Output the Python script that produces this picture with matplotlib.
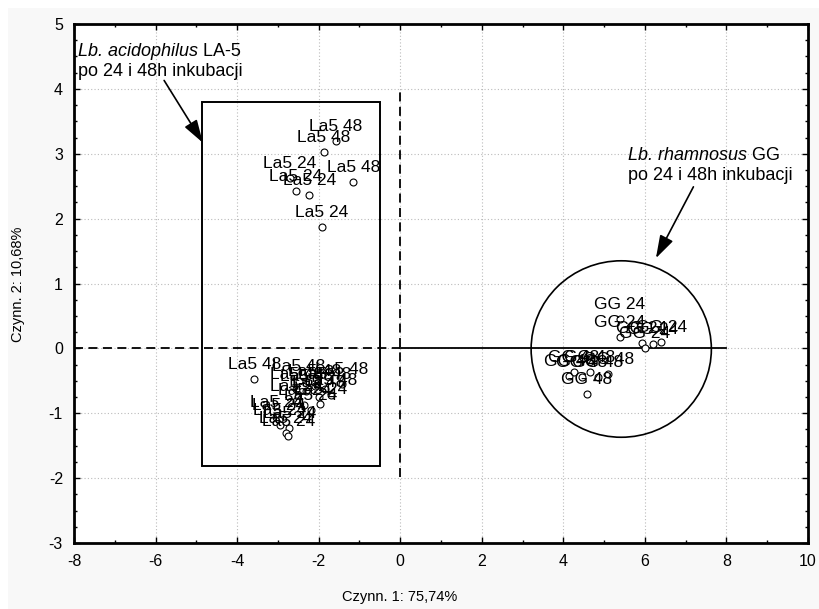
import matplotlib
matplotlib.use("Agg")
import matplotlib.pyplot as plt
from matplotlib.patches import Rectangle, Ellipse

plt.rcParams['font.family'] = ['Liberation Sans', 'DejaVu Sans']
plt.rcParams['axes.unicode_minus'] = False

# PCA scores, Lb. acidophilus LA-5
la5_x = [-1.58, -1.88, -1.15, -2.70, -2.56, -2.23, -1.92,
         -3.58, -2.48, -1.43, -2.10, -1.85, -2.30, -1.70, -2.00, -2.55,
         -2.55, -2.35, -1.96, -2.20, -3.04, -2.97, -2.95, -2.72, -2.80, -2.74]
la5_y = [3.19, 3.03, 2.56, 2.63, 2.43, 2.37, 1.87,
         -0.47, -0.50, -0.55, -0.58, -0.62, -0.65, -0.72, -0.75, -0.63,
         -0.81, -0.88, -0.85, -0.95, -1.06, -1.10, -1.18, -1.23, -1.30, -1.35]
la5_lab = ["La5 48", "La5 48", "La5 48", "La5 24", "La5 24", "La5 24", "La5 24",
           "La5 48", "La5 48", "La5 48", "La5 48", "La5 48", "La5 48", "La5 48", "La5 48", "La5 48",
           "La5 24", "La5 24", "La5 24", "La5 24", "La5 24", "La5 24", "La5 24", "La5 24", "La5 24", "La5 24"]

# PCA scores, Lb. rhamnosus GG
gg_x = [5.39, 5.39, 5.92, 6.19, 6.00, 6.40,
        4.15, 4.25, 4.45, 4.65, 4.85, 5.10, 4.58]
gg_y = [0.46, 0.18, 0.09, 0.07, 0.01, 0.10,
        -0.42, -0.36, -0.44, -0.36, -0.44, -0.40, -0.71]
gg_lab = ["GG 24", "GG 24", "GG 24", "GG 24", "GG 24", "GG 24",
          "GG 48", "GG 48", "GG 48", "GG 48", "GG 48", "GG 48", "GG 48"]

xs = la5_x + gg_x
ys = la5_y + gg_y
labels = la5_lab + gg_lab

W, H = 819, 609
fig = plt.figure(figsize=(W / 100, H / 100), dpi=100, facecolor='white')
fig.patches.append(Rectangle((8 / W, 0), 1 - 8 / W, 1 - 8 / H, transform=fig.transFigure,
                             facecolor='#f8f8f8', edgecolor='none', zorder=-10))

ax = fig.add_axes([74 / W, (H - 543) / H, 734 / W, 519 / H])
ax.set_facecolor('white')
ax.set_xlim(-8, 10)
ax.set_ylim(-3, 5)
ax.set_xticks(range(-8, 11, 2))
ax.set_yticks(range(-3, 6))
ax.set_xticks(range(-7, 10, 2), minor=True)
ax.set_yticks([v / 4 for v in range(-12, 21) if v % 4], minor=True)
ax.tick_params(which='both', direction='in', top=True, right=True, labelsize=11.5, pad=8)
ax.tick_params(which='major', length=4, width=1)
ax.tick_params(which='minor', length=2.5, width=1)
for s in ax.spines.values():
    s.set_linewidth(2)
ax.grid(True, which='major', ls=(0, (1, 2)), color='#bbbbbb', lw=0.8)
ax.set_axisbelow(True)

# points and labels
ax.plot(xs, ys, 'o', ms=5, mfc='white', mec='black', mew=0.8, zorder=3)
for x, y, t in zip(xs, ys, labels):
    ax.annotate(t, (x, y), xytext=(0, 10), textcoords='offset pixels',
                ha='center', va='baseline', fontsize=12.5, zorder=4)

# reference lines
ax.plot([-8, 0], [0, 0], color='black', lw=1.3, ls=(0, (5, 3)), zorder=2)
ax.plot([0, 8], [0, 0], color='black', lw=1.3, zorder=2)
ax.plot([0, 0], [-1.98, 3.97], color='black', lw=1.3, ls=(0, (5, 3)), zorder=2)

# group outlines
ax.add_patch(Rectangle((-4.86, -1.81), 4.36, 5.61, fill=False, lw=1.4, ec='black', zorder=2))
ax.add_patch(Ellipse((5.42, -0.01), 4.42, 2.72, fill=False, lw=1.2, ec='black', zorder=2))

# annotations
def two_style(x, y, ital, rest):
    t1 = ax.text(x, y, ital, style='italic', fontsize=13, va='center', ha='left')
    ax.annotate(rest, xy=(1, 0), xycoords=t1, va='bottom', ha='left', fontsize=13)

two_style(-7.90, 4.58, "Lb. acidophilus", " LA-5")
ax.text(-7.90, 4.27, "po 24 i 48h inkubacji", fontsize=13, va='center', ha='left')
two_style(5.59, 2.98, "Lb. rhamnosus", " GG")
ax.text(5.59, 2.66, "po 24 i 48h inkubacji", fontsize=13, va='center', ha='left')

arrow = dict(arrowstyle='-|>,head_length=0.7,head_width=0.22', color='black', lw=1.2,
             mutation_scale=20, shrinkA=0, shrinkB=0)
ax.annotate('', xy=(-4.84, 3.17), xytext=(-5.79, 4.13), arrowprops=arrow)
ax.annotate('', xy=(6.27, 1.39), xytext=(7.19, 2.49), arrowprops=arrow)

fig.text(400 / W, 1 - 597 / H, "Czynn. 1: 75,74%", ha='center', va='center', fontsize=10.5)
fig.text(18 / W, 1 - 284 / H, "Czynn. 2: 10,68%", ha='center', va='center',
         rotation=90, fontsize=10.5)

fig.savefig("out.png", dpi=100, facecolor=fig.get_facecolor())
